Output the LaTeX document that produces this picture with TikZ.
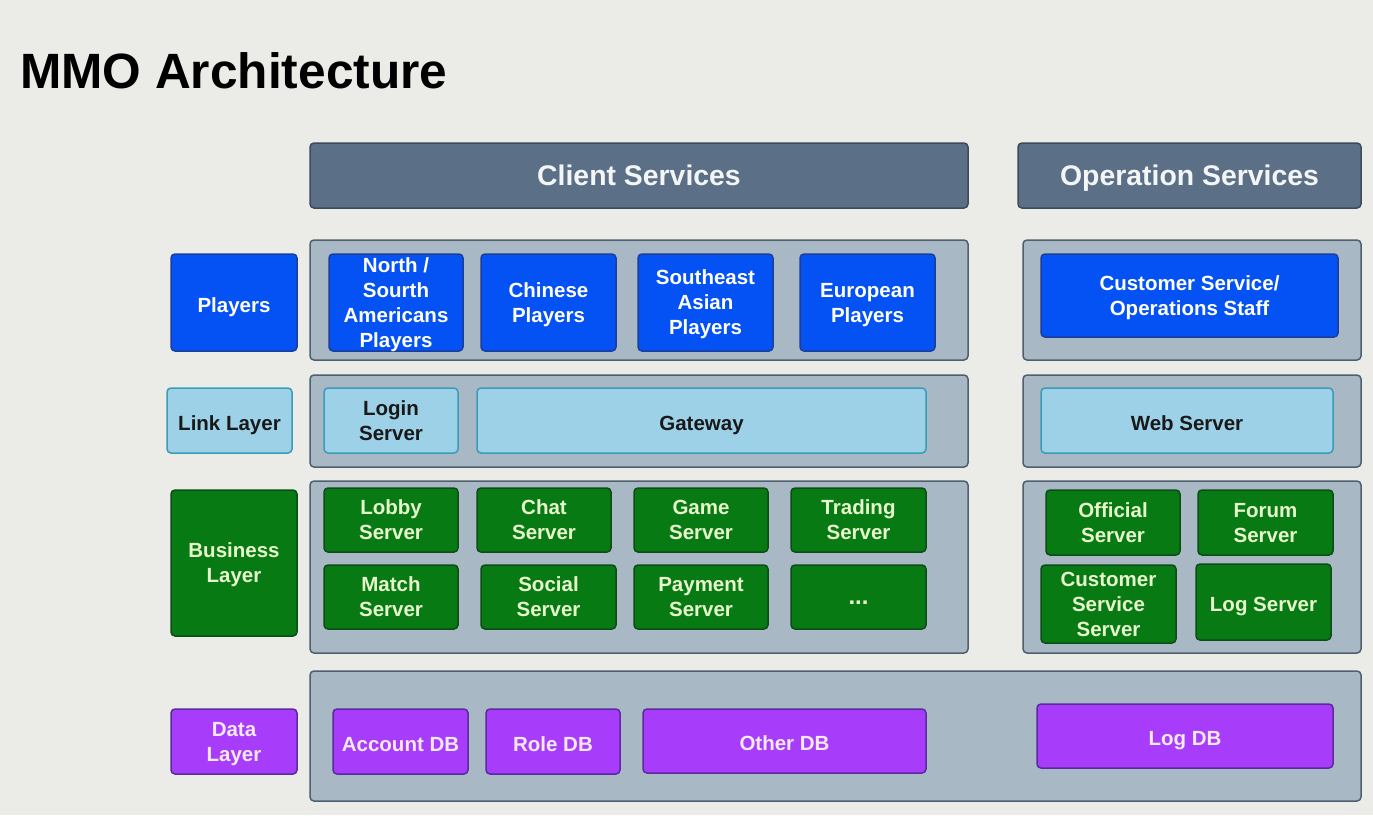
\documentclass[tikz,border=0pt]{standalone}
\usepackage{fontspec}
\setmainfont{Liberation Sans}
\definecolor{bgcol}{HTML}{EBEBE7}
\definecolor{headfill}{HTML}{5B7086}
\definecolor{headline}{HTML}{3C4B5A}
\definecolor{panefill}{HTML}{A8B9C5}
\definecolor{paneline}{HTML}{4E5F6E}
\definecolor{bluefill}{HTML}{0452F4}
\definecolor{blueline}{HTML}{1B3E9C}
\definecolor{skyfill}{HTML}{9CD1E8}
\definecolor{skyline}{HTML}{3A9CB8}
\definecolor{greenfill}{HTML}{077A13}
\definecolor{greenline}{HTML}{0D4C17}
\definecolor{greentext}{HTML}{E8F6CC}
\definecolor{purplefill}{HTML}{A73DFA}
\definecolor{purpleline}{HTML}{5A2A9E}
\definecolor{purpletext}{HTML}{F7E8F6}
\begin{document}
\begin{tikzpicture}[x=1pt,y=-1pt,
  every node/.style={inner sep=0pt,align=center,rounded corners=4pt,text depth=0pt,
    font=\bfseries\fontsize{20.5}{25}\selectfont},
  head/.style={fill=headfill,draw=headline,line width=1.5pt,text=white!93!headfill,
    font=\bfseries\fontsize{28.4}{34}\selectfont},
  pane/.style={fill=panefill,draw=paneline,line width=1.5pt},
  box/.style={line width=1.5pt,execute at begin node={\rule{0pt}{19pt}}},
  bluebox/.style={box,fill=bluefill,draw=blueline,text=white},
  skybox/.style={box,fill=skyfill,draw=skyline,text=black!90},
  greenbox/.style={box,fill=greenfill,draw=greenline,text=greentext},
  purplebox/.style={box,fill=purplefill,draw=purpleline,text=purpletext}]
  \fill[bgcol] (0,0) rectangle (1373,815);
  \useasboundingbox (0,0) rectangle (1373,815);

  \node[anchor=base west,font=\bfseries\fontsize{49.6}{58}\selectfont,rounded corners=0pt] (title) at (20,88) {MMO Architecture};

  \node[head,minimum width=658,minimum height=65] (cs) at (639,175.5) {Client Services};
  \node[head,minimum width=343,minimum height=65] (os) at (1189.5,175.5) {Operation Services};

  \node[pane,minimum width=658,minimum height=120] (cplay) at (639,300) {};
  \node[pane,minimum width=338,minimum height=120] (oplay) at (1192,300) {};
  \node[pane,minimum width=658,minimum height=92] (clink) at (639,421) {};
  \node[pane,minimum width=338,minimum height=92] (olink) at (1192,421) {};
  \node[pane,minimum width=658,minimum height=172] (cbiz) at (639,567) {};
  \node[pane,minimum width=338,minimum height=172] (obiz) at (1192,567) {};
  \node[pane,minimum width=1051,minimum height=130] (data) at (835.5,736) {};

  \node[bluebox,minimum width=126,minimum height=97] (lplay) at (234,302.5) {Players};
  \node[skybox,minimum width=125,minimum height=65] (llink) at (229.5,420.5) {Link Layer};
  \node[greenbox,minimum width=126,minimum height=146] (lbiz) at (234,563) {Business\\Layer};
  \node[purplebox,minimum width=126,minimum height=65] (ldata) at (234,741.5) {Data\\Layer};

  \node[bluebox,minimum width=134,minimum height=97] (pna) at (396,302.5) {North /\\Sourth\\Americans\\Players};
  \node[bluebox,minimum width=135,minimum height=97] (pcn) at (548.5,302.5) {Chinese\\Players};
  \node[bluebox,minimum width=135,minimum height=97] (psea) at (705.5,302.5) {Southeast\\Asian\\Players};
  \node[bluebox,minimum width=135,minimum height=97] (peu) at (867.5,302.5) {European\\Players};
  \node[bluebox,minimum width=297,minimum height=83] (staff) at (1189.5,295.5) {Customer Service/\\Operations Staff};

  \node[skybox,minimum width=134,minimum height=65] (login) at (391,420.5) {Login\\Server};
  \node[skybox,minimum width=449,minimum height=65] (gate) at (701.5,420.5) {Gateway};
  \node[skybox,minimum width=292,minimum height=65] (web) at (1187,420.5) {Web Server};

  \node[greenbox,minimum width=134,minimum height=64] (lobby) at (391,520) {Lobby\\Server};
  \node[greenbox,minimum width=134,minimum height=64] (chat) at (544,520) {Chat\\Server};
  \node[greenbox,minimum width=134,minimum height=64] (game) at (701,520) {Game\\Server};
  \node[greenbox,minimum width=135,minimum height=64] (trade) at (858.5,520) {Trading\\Server};
  \node[greenbox,minimum width=134,minimum height=64] (match) at (391,597) {Match\\Server};
  \node[greenbox,minimum width=135,minimum height=64] (social) at (548.5,597) {Social\\Server};
  \node[greenbox,minimum width=134,minimum height=64] (pay) at (701,597) {Payment\\Server};
  \node[greenbox,minimum width=135,minimum height=64,text height=14pt,
    font=\bfseries\fontsize{24}{25}\selectfont] (more) at (858.5,597) {...};
  \node[greenbox,minimum width=134,minimum height=65] (official) at (1113,522.5) {Official\\Server};
  \node[greenbox,minimum width=135,minimum height=65] (forum) at (1265.5,522.5) {Forum\\Server};
  \node[greenbox,minimum width=135,minimum height=78] (css) at (1108.5,604) {Customer\\Service\\Server};
  \node[greenbox,minimum width=135,minimum height=76] (logsrv) at (1263.5,602) {Log Server};

  \node[purplebox,minimum width=135,minimum height=65] (acct) at (400.5,741.5) {Account DB};
  \node[purplebox,minimum width=134,minimum height=65] (role) at (553,741.5) {Role DB};
  \node[purplebox,minimum width=283,minimum height=64] (other) at (784.5,741) {Other DB};
  \node[purplebox,minimum width=296,minimum height=64] (logdb) at (1185,736) {Log DB};
\end{tikzpicture}
\end{document}
